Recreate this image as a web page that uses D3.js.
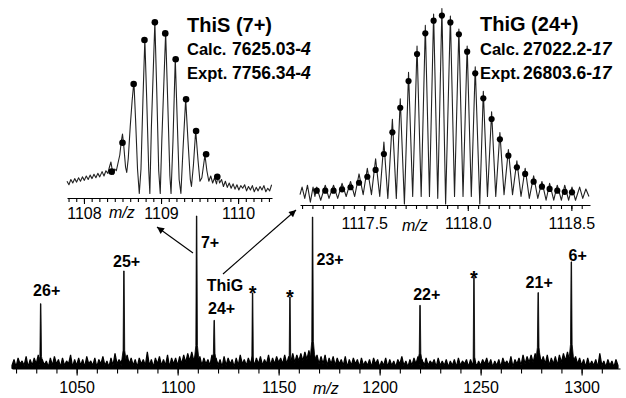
<!DOCTYPE html>
<html>
<head>
<meta charset="utf-8">
<script src="https://cdn.jsdelivr.net/npm/d3@7/dist/d3.min.js"></script>
<style>
  html, body { margin: 0; padding: 0; background: #fff; }
  svg { display: block; font-family: 'Liberation Sans', Arial, Helvetica, sans-serif; }
</style>
</head>
<body>
<div id="chart"></div>
<script>
// ---- main spectrum ----
const mainTicks = [1050, 1100, 1150, 1200, 1250, 1300];
const peakMz     = [1032.2, 1073.4, 1109.4, 1118.1, 1137.1, 1155.6, 1166.8, 1220.0, 1246.7, 1278.5, 1294.9];
const peakHeight = [42.8, 64.4, 100.7, 31.8, 49.9, 47.2, 100, 41.7, 60.3, 50.1, 70.4];
const peakSkirt  = [8, 12, 15, 10, 3, 3, 18, 10, 3, 14, 16];
const peakLabels = ['26+', '25+', '7+', '24+', '*', '*', '23+', '22+', '*', '21+', '6+'];

// baseline noise, one sample per m/z starting at 1018
const noiseStart = 1018;
const mainNoise = [
  2,6,1,7,3,5,2,8,1,6,2,7,3,9,1,6,2,5,1,7,
  2,8,3,6,1,7,2,5,3,9,1,6,2,7,2,6,1,8,3,5,
  2,7,1,6,3,8,2,5,1,7,2,10,3,6,2,7,4,9,3,7,
  2,6,1,7,3,6,2,11,2,6,1,7,3,8,2,6,2,9,1,7,
  3,7,2,8,3,9,4,10,5,11,5,9,3,8,2,7,3,6,2,9,
  3,7,2,6,1,8,2,7,3,6,1,7,2,9,3,6,2,7,3,8,
  2,7,3,8,2,6,3,9,2,7,3,8,4,7,3,9,3,8,4,10,
  4,9,5,10,5,11,6,12,5,10,4,9,3,8,3,9,2,7,3,8,
  2,7,3,6,2,8,1,6,2,7,3,6,1,7,2,5,2,6,1,7,
  3,6,1,5,2,7,1,6,2,5,1,6,3,8,2,5,1,6,2,7,
  3,8,2,6,1,7,2,5,3,6,1,7,2,5,2,6,1,5,2,6,
  1,7,2,5,3,6,1,6,2,7,1,5,2,6,3,7,2,6,1,5,
  2,6,1,7,3,5,2,8,1,6,3,7,2,9,3,8,4,9,4,10,
  5,10,4,8,3,9,2,7,3,8,2,9,4,10,5,11,5,9,4,8,
  3,7,2,6,1,7,2,5,2,6,1,10,2,5,1,6,2,5,1,6,2
];

// ---- inset ThiS (7+) ----
const thisTicks = [1108, 1109, 1110];
const thisDotMz  = [1108.36, 1108.50, 1108.645, 1108.785, 1108.92, 1109.055, 1109.19, 1109.325, 1109.455, 1109.585, 1109.73];
const thisDotInt = [14.5, 31, 64.6, 89.7, 99.8, 93.5, 78.7, 55.8, 37.7, 24.4, 11.6];
const thisTrace = [
  [1107.78,9],[1107.805,7],[1107.83,10],[1107.855,8],[1107.88,10.5],[1107.905,8.5],[1107.93,11],
  [1107.955,9],[1107.98,11.5],[1108.005,9.5],[1108.03,12],[1108.055,10],[1108.08,12.5],[1108.105,10.5],
  [1108.13,13],[1108.155,11],[1108.18,13.5],[1108.205,11.5],[1108.235,14.5],[1108.26,12],[1108.285,15],
  [1108.31,13.5],[1108.33,17],[1108.35,20],[1108.365,16],[1108.38,13],[1108.40,16],[1108.42,15],
  [1108.44,19],[1108.465,24],[1108.485,32],[1108.50,36],[1108.515,30],[1108.54,17],[1108.555,14],
  [1108.575,22],[1108.60,40],[1108.625,55],[1108.648,66],[1108.67,44],[1108.695,16],[1108.718,2],
  [1108.74,16],[1108.765,55],[1108.79,90],[1108.815,55],[1108.84,16],[1108.855,2],[1108.875,40],
  [1108.92,100],[1108.945,60],[1108.97,15],[1108.99,2],[1109.01,32],[1109.06,94],[1109.09,50],
  [1109.115,12],[1109.13,2],[1109.155,32],[1109.185,79],[1109.21,44],[1109.235,10],[1109.258,2],
  [1109.285,27],[1109.32,56],[1109.35,32],[1109.38,10],[1109.395,6],[1109.42,18],[1109.45,38],
  [1109.48,21],[1109.505,9],[1109.53,11],[1109.57,24],[1109.595,15],[1109.62,9],[1109.645,12],
  [1109.67,8],[1109.695,11],[1109.72,7.5],[1109.74,12],[1109.76,8],[1109.785,10],[1109.81,6],
  [1109.835,9],[1109.86,5.5],[1109.885,8],[1109.91,5],[1109.935,7.5],[1109.96,4.5],[1109.985,7],
  [1110.01,4],[1110.035,6.5],[1110.06,5],[1110.085,7],[1110.11,3.5],[1110.135,6],[1110.16,4],
  [1110.185,6.5],[1110.21,3],[1110.235,5.5],[1110.26,3.5],[1110.285,6],[1110.31,4],[1110.335,6.5],
  [1110.36,3],[1110.385,5],[1110.41,3.5],[1110.435,7]
];
const thisTitle = 'ThiS (7+)';
const thisLines = [['Calc.', '7625.03-', '4'], ['Expt.', '7756.34-', '4']];

// ---- inset ThiG (24+) ----
const thigTicks = [1117.5, 1118.0, 1118.5];
const thigDotMz  = [1117.271, 1117.312, 1117.352, 1117.393, 1117.434, 1117.475, 1117.515, 1117.555, 1117.595,
  1117.636, 1117.674, 1117.714, 1117.755, 1117.795, 1117.835, 1117.875, 1117.916, 1117.957, 1117.997,
  1118.036, 1118.075, 1118.115, 1118.155, 1118.196, 1118.237, 1118.277, 1118.318, 1118.358, 1118.395,
  1118.432, 1118.468, 1118.503];
const thigDotInt = [7.1, 7.1, 7.1, 7.8, 8.9, 11.3, 14.5, 18.1, 26.6, 38.1, 51.2, 65.4, 79.8, 90.8, 97.5, 100.2,
  96.6, 90.3, 81.0, 69.5, 56.2, 45.2, 34.4, 25.7, 19.5, 16.0, 11.9, 9.2, 8.0, 7.1, 6.5, 6.2];
const thigTrace = [
  [1117.19,5],[1117.20,9],[1117.213,3],[1117.226,10],[1117.24,1],[1117.253,9],[1117.262,4],
  [1117.271,9],[1117.29,2],[1117.312,10],[1117.33,3],[1117.352,10],[1117.372,3],[1117.393,11],[1117.413,4],
  [1117.434,12],[1117.454,4],[1117.475,16],[1117.495,5],[1117.515,19],[1117.535,5],[1117.555,24],[1117.575,4],
  [1117.595,33],[1117.614,3],[1117.636,45],[1117.655,3],[1117.674,56],[1117.694,0],[1117.714,70],[1117.734,4],
  [1117.755,84],[1117.775,4],[1117.795,95],[1117.815,4],[1117.835,101],[1117.855,3],[1117.875,104],[1117.893,0],
  [1117.916,100],[1117.936,4],[1117.957,93],[1117.977,4],[1117.997,84],[1118.017,4],[1118.036,73],[1118.058,0],
  [1118.075,60],[1118.095,4],[1118.115,49],[1118.135,4],[1118.155,38],[1118.175,5],[1118.196,29],[1118.216,5],
  [1118.237,23],[1118.257,4],[1118.277,19],[1118.297,3],[1118.318,15],[1118.338,3],[1118.358,12],[1118.378,2],
  [1118.395,11],[1118.415,2],[1118.432,10],[1118.452,2],[1118.468,10],[1118.487,2],[1118.503,9],[1118.52,2],
  [1118.54,9],[1118.555,3],[1118.57,8],[1118.585,4]
];
const thigTitle = 'ThiG (24+)';
const thigLines = [['Calc.', '27022.2-', '17'], ['Expt.', '26803.6-', '17']];

// ---- layout ----
const config = {
  width: 626,
  height: 398,
  font: 16,
  main: { domain: [1018, 1319], range: [12, 620], yBase: 368.5, yTop: 217, minorStep: 10 },
  ins1: { domain: [1107.78, 1110.44], range: [67, 272], yBase: 198, yTop: 22, minorStep: 0.1,
          titleX: 187, titleY: 31.5, valX: 232, lineY: [55, 79], mzX: 109, mzY: 218 },
  ins2: { domain: [1117.19, 1118.59], range: [300, 590], yBase: 205, yTop: 16, minorStep: 0.05,
          titleX: 480, titleY: 30.5, valX: 523, lineY: [55, 79], mzX: 402, mzY: 231 },
  // label offsets from the peak top: dx, dy, anchor
  labelOffsets: [[6,-8,'middle'],[2.7,-4,'middle'],[4.3,32,'start'],[7.4,-6.7,'middle'],[0,7.5,'middle'],
    [0,7.5,'middle'],[4,48,'start'],[6.7,-5,'middle'],[0,8,'middle'],[1,-5,'middle'],[6.4,-1,'middle']],
  thigLabel: { dx: 10.7, dy: -29.3 },
  arrows: [[193, 253, 157, 227], [223, 274, 296, 210]]
};

const svg = d3.select('#chart').append('svg')
  .attr('width', config.width)
  .attr('height', config.height);

svg.append('rect').attr('width', config.width).attr('height', config.height).attr('fill', '#fff');

svg.append('defs').append('marker')
  .attr('id', 'head')
  .attr('viewBox', '0 0 10 10')
  .attr('refX', 10).attr('refY', 5)
  .attr('markerWidth', 9).attr('markerHeight', 7)
  .attr('markerUnits', 'userSpaceOnUse')
  .attr('orient', 'auto')
  .append('path').attr('d', 'M0,0L10,5L0,10Z').attr('fill', '#000');

/**
 * bottom axis with minor and labelled ticks
 */
function drawAxis(cfg, x, labels, fmt, major, minor, pad) {
  const minorVals = d3.range(Math.ceil(cfg.domain[0] / cfg.minorStep - 1e-6), Math.floor(cfg.domain[1] / cfg.minorStep + 1e-6) + 1)
    .map(k => +(k * cfg.minorStep).toFixed(3));
  const g = svg.append('g').attr('transform', `translate(0,${cfg.yBase})`);
  g.call(d3.axisBottom(x).tickValues(minorVals).tickFormat('').tickSize(minor).tickSizeOuter(0));
  g.append('g').call(d3.axisBottom(x).tickValues(labels).tickFormat(fmt).tickSize(major).tickPadding(pad).tickSizeOuter(0))
    .call(a => a.select('.domain').remove());
  g.selectAll('path, line').attr('stroke', '#000').attr('stroke-width', 1.1);
  g.selectAll('text').attr('font-size', config.font).attr('font-family', null).attr('fill', '#000');
  return g;
}

// ---- main spectrum ----
const xMain = d3.scaleLinear().domain(config.main.domain).range(config.main.range);
const yMain = d3.scaleLinear().domain([0, 100]).range([config.main.yBase, config.main.yTop]);

drawAxis(config.main, xMain, mainTicks, d3.format('d'), 7, 5, 6);

// noise band: filled down to the baseline, with a ragged top edge
svg.append('path')
  .datum(mainNoise)
  .attr('fill', '#000')
  .attr('stroke', '#000')
  .attr('stroke-width', 1.2)
  .attr('stroke-linejoin', 'bevel')
  .attr('d', d3.area().x((d, i) => xMain(noiseStart + i)).y0(yMain(0)).y1(d => yMain(d)));

const peakLine = d3.line().x(d => xMain(d[0])).y(d => yMain(d[1]));
peakMz.forEach((mz, i) => {
  const h = peakHeight[i], s = peakSkirt[i];
  const shape = [[mz - 2.5, 3], [mz - 1, s * 0.5], [mz - 0.4, s], [mz - 0.12, h],
                 [mz + 0.12, h], [mz + 0.4, s], [mz + 1, s * 0.5], [mz + 2.5, 3]];
  svg.append('path')
    .attr('d', peakLine(shape))
    .attr('fill', '#000')
    .attr('stroke', '#000')
    .attr('stroke-width', 0.8);
});

// peak labels
peakLabels.forEach((lab, i) => {
  const [dx, dy, anchor] = config.labelOffsets[i];
  const star = lab === '*';
  svg.append('text')
    .attr('x', xMain(peakMz[i]) + dx)
    .attr('y', yMain(peakHeight[i]) + dy)
    .attr('text-anchor', anchor)
    .attr('font-size', star ? 20 : config.font)
    .attr('font-weight', 'bold')
    .text(lab);
});
svg.append('text')
  .attr('x', xMain(peakMz[3]) + config.thigLabel.dx)
  .attr('y', yMain(peakHeight[3]) + config.thigLabel.dy)
  .attr('text-anchor', 'middle')
  .attr('font-size', config.font)
  .attr('font-weight', 'bold')
  .text('ThiG');

svg.append('text')
  .attr('x', 313).attr('y', 394)
  .attr('font-size', config.font)
  .attr('font-style', 'italic')
  .text('m/z');

// arrows
config.arrows.forEach(a => {
  svg.append('line')
    .attr('x1', a[0]).attr('y1', a[1]).attr('x2', a[2]).attr('y2', a[3])
    .attr('stroke', '#000').attr('stroke-width', 1.1)
    .attr('marker-end', 'url(#head)');
});

/**
 * inset isotope spectrum
 */
function drawInset(cfg, ticks, fmt, trace, dotMz, dotInt, title, lines, dotR) {
  const x = d3.scaleLinear().domain(cfg.domain).range(cfg.range);
  const y = d3.scaleLinear().domain([0, 100]).range([cfg.yBase - 1, cfg.yTop]);

  drawAxis(cfg, x, ticks, fmt, 6, 4, cfg === config.ins1 ? 3.5 : 6.5);

  svg.append('path')
    .datum(trace)
    .attr('fill', 'none')
    .attr('stroke', '#222')
    .attr('stroke-width', 1.1)
    .attr('stroke-linejoin', 'round')
    .attr('d', d3.line().x(d => x(d[0])).y(d => y(d[1])));

  svg.append('g').selectAll('circle')
    .data(dotMz)
    .enter()
    .append('circle')
    .attr('cx', d => x(d))
    .attr('cy', (d, i) => y(dotInt[i]))
    .attr('r', dotR)
    .attr('fill', '#000');

  svg.append('text')
    .attr('x', cfg.mzX).attr('y', cfg.mzY)
    .attr('font-size', config.font)
    .attr('font-style', 'italic')
    .text('m/z');

  svg.append('text')
    .attr('x', cfg.titleX).attr('y', cfg.titleY)
    .attr('font-size', 20)
    .attr('font-weight', 'bold')
    .text(title);

  lines.forEach((ln, i) => {
    svg.append('text')
      .attr('x', cfg.titleX).attr('y', cfg.lineY[i])
      .attr('font-size', 16.5).attr('font-weight', 'bold')
      .text(ln[0]);
    const t = svg.append('text')
      .attr('x', cfg.valX).attr('y', cfg.lineY[i])
      .attr('font-size', 17.5).attr('font-weight', 'bold');
    t.append('tspan').text(ln[1]);
    t.append('tspan').attr('font-style', 'italic').text(ln[2]);
  });
}

drawInset(config.ins1, thisTicks, d3.format('d'), thisTrace, thisDotMz, thisDotInt, thisTitle, thisLines, 3.3);
drawInset(config.ins2, thigTicks, d3.format('.1f'), thigTrace, thigDotMz, thigDotInt, thigTitle, thigLines, 3.1);
</script>
</body>
</html>
